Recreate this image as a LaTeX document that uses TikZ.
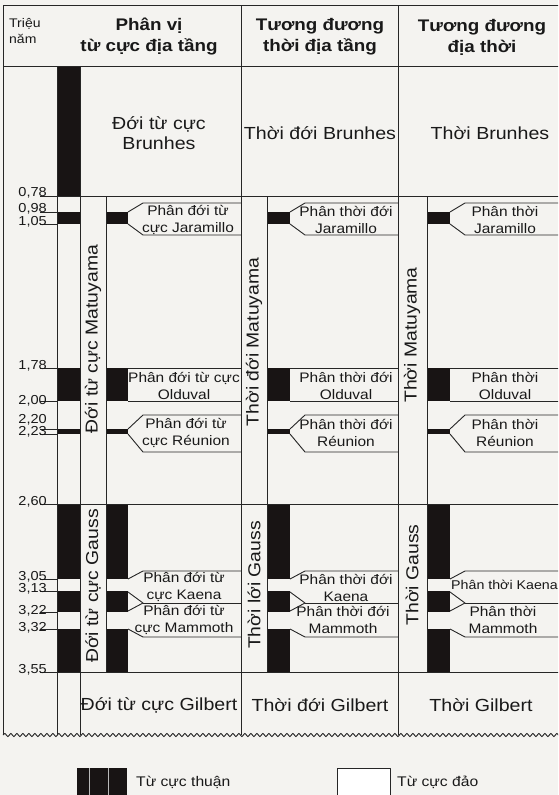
\documentclass[tikz,border=0pt]{standalone}
\usepackage{fontspec}
\setmainfont{Liberation Sans}[FakeStretch=1.12]
\usetikzlibrary{decorations.pathmorphing}
\definecolor{linec}{RGB}{38,38,38}
\definecolor{barc}{RGB}{24,20,20}
\definecolor{bgc}{RGB}{244,243,240}
\definecolor{txtc}{RGB}{25,25,25}
\tikzset{
  ln/.style={draw=linec, line width=0.9pt, line join=round},
  big/.style={font=\fontsize{17.5}{20}\selectfont, align=center, text=txtc, inner sep=0pt},
  lbl/.style={font=\fontsize{13.8}{16.5}\selectfont, align=center, text=txtc, inner sep=0pt},
  hdr/.style={font=\bfseries\fontsize{16.8}{21}\selectfont, align=center, text=txtc, inner sep=0pt},
  num/.style={font=\fontsize{13}{13}\selectfont, anchor=east, text=txtc, inner sep=0pt},
  rot/.style={font=\fontsize{17.3}{20}\selectfont, rotate=90, text=txtc, inner sep=0pt},
  leg/.style={font=\fontsize{14}{15}\selectfont, anchor=west, text=txtc, inner sep=0pt}
}
\begin{document}
\begin{tikzpicture}[x=1pt,y=-1pt]
\useasboundingbox (0,0) rectangle (558,795);
\clip (0,0) rectangle (558,795);
\fill[bgc] (0,0) rectangle (558,795);

% polarity bars (black = normal)
\foreach \l/\r in {57/80,106/128,267/290,427/450}{
  \foreach \t/\b in {212/224,368/401,429/434,504/579,591/612,629/672}{
    \fill[barc] (\l,\t) rectangle (\r,\b);
  }
}
\fill[barc] (57,66) rectangle (80,196);

% frame and column lines
\draw[ln] (3,5) -- (560,5);
\draw[ln] (3,66) -- (560,66);
\draw[ln] (3,5) -- (3,735);
\draw[ln] (241,5) -- (241,735);
\draw[ln] (398,5) -- (398,735);
\draw[ln] (57,66) -- (57,735);
\draw[ln] (80,66) -- (80,735);
\draw[ln] (106,196) -- (106,672);
\draw[ln] (267,196) -- (267,672);
\draw[ln] (427,196) -- (427,672);
\foreach \y in {196,504,672}{ \draw[ln] (40,\y) -- (560,\y); }
\foreach \y in {212,224,368,401,429,434,579,591,612,629}{ \draw[ln] (40,\y) -- (57,\y); }

% wavy bottom
\draw[ln, decorate, decoration={snake, segment length=6pt, amplitude=1.6pt}] (3,735) -- (562,735);

% pointer label outlines
\foreach \r/\R in {128/241,290/398,450/562}{
  \pgfmathsetmacro\a{\r+15}
  \draw[ln] (\R,203) -- (\a,203) -- (\r,212);
  \draw[ln] (\r,224) -- (\a,235) -- (\R,235);
  \draw[ln] (\r,368) -- (\R,368);
  \draw[ln] (\r,401) -- (\R,401);
  \draw[ln] (\R,415) -- (\a,415) -- (\r,429);
  \draw[ln] (\r,434) -- (\a,452) -- (\R,452);
  \draw[ln] (\R,571) -- (\a,571) -- (\r,579);
  \draw[ln] (\r,592) -- (\a,603) -- (\r,611);
  \draw[ln] (\a,603) -- (\R,603);
  \draw[ln] (\r,629) -- (\a,637) -- (\R,637);
}

% axis labels
\node[font=\fontsize{12.5}{16}\selectfont, align=left, anchor=west, text=txtc, inner sep=0pt] (unit) at (9,31) {Triệu\\năm};
\node[num] (n078) at (47,193) {0,78};
\node[num] (n098) at (47,209) {0,98};
\node[num] (n105) at (47,222) {1,05};
\node[num] (n178) at (47,366) {1,78};
\node[num] (n200) at (47,401) {2,00};
\node[num] (n220) at (47,420) {2,20};
\node[num] (n223) at (47,432) {2,23};
\node[num] (n260) at (47,502) {2,60};
\node[num] (n305) at (47,577) {3,05};
\node[num] (n313) at (47,589) {3,13};
\node[num] (n322) at (47,611) {3,22};
\node[num] (n332) at (47,628) {3,32};
\node[num] (n355) at (47,670) {3,55};

% headers
\node[hdr] (h1) at (149,37) {Phân vị\\từ cực địa tầng};
\node[hdr] (h2) at (320,37) {Tương đương\\thời địa tầng};
\node[hdr] (h3) at (482,37) {Tương đương\\địa thời};

% Brunhes / Gilbert
\node[big] (b1) at (159,133) {Đới từ cực\\Brunhes};
\node[big] (b2) at (320,133) {Thời đới Brunhes};
\node[big] (b3) at (490,133) {Thời Brunhes};
\node[big] (g1) at (159,705) {Đới từ cực Gilbert};
\node[big] (g2) at (320,705) {Thời đới Gilbert};
\node[big] (g3) at (481,705) {Thời Gilbert};

% rotated chron names
\node[rot] (m1) at (93,339) {Đới từ cực Matuyama};
\node[rot] (m2) at (254,342) {Thời đới Matuyama};
\node[rot] (m3) at (412,335) {Thời Matuyama};
\node[rot] (s1) at (93,586) {Đới từ cực Gauss};
\node[rot] (s2) at (254,585) {Thời lới Gauss};
\node[rot] (s3) at (412,575) {Thời Gauss};

% column 1 subchron labels
\node[lbl] (j1) at (188,220) {Phân đới từ\\cực Jaramillo};
\node[lbl] (o1) at (184,386) {Phân đới từ cực\\Olduval};
\node[lbl] (r1) at (186,433) {Phân đới từ\\cực Réunion};
\node[lbl] (k1) at (184,587) {Phân đới từ\\cực Kaena};
\node[lbl] (mm1) at (184,620) {Phân đới từ\\cực Mammoth};

% column 2 subchron labels
\node[lbl] (j2) at (346,220) {Phân thời đới\\Jaramillo};
\node[lbl] (o2) at (346,386) {Phân thời đới\\Olduval};
\node[lbl] (r2) at (346,433) {Phân thời đới\\Réunion};
\node[lbl] (k2) at (346,588) {Phân thời đới\\Kaena};
\node[lbl] (mm2) at (343,620) {Phân thời đới\\Mammoth};

% column 3 subchron labels
\node[lbl] (j3) at (505,220) {Phân thời\\Jaramillo};
\node[lbl] (o3) at (505,386) {Phân thời\\Olduval};
\node[lbl] (r3) at (505,433) {Phân thời\\Réunion};
\node[lbl, font=\fontsize{12.7}{15}\selectfont, anchor=west] (k3) at (451,585) {Phân thời Kaena};
\node[lbl] (mm3) at (503,620) {Phân thời\\Mammoth};

% legend
\fill[barc] (77,768) rectangle (127,800);
\draw[gray!55, line width=0.8pt] (89,768) -- (89,800);
\draw[gray!55, line width=0.8pt] (108,768) -- (108,800);
\node[leg] (lt) at (136,782) {Từ cực thuận};
\draw[ln, fill=white] (337,768) rectangle (390,800);
\node[leg] (ld) at (397,782) {Từ cực đảo};
\end{tikzpicture}
\end{document}
